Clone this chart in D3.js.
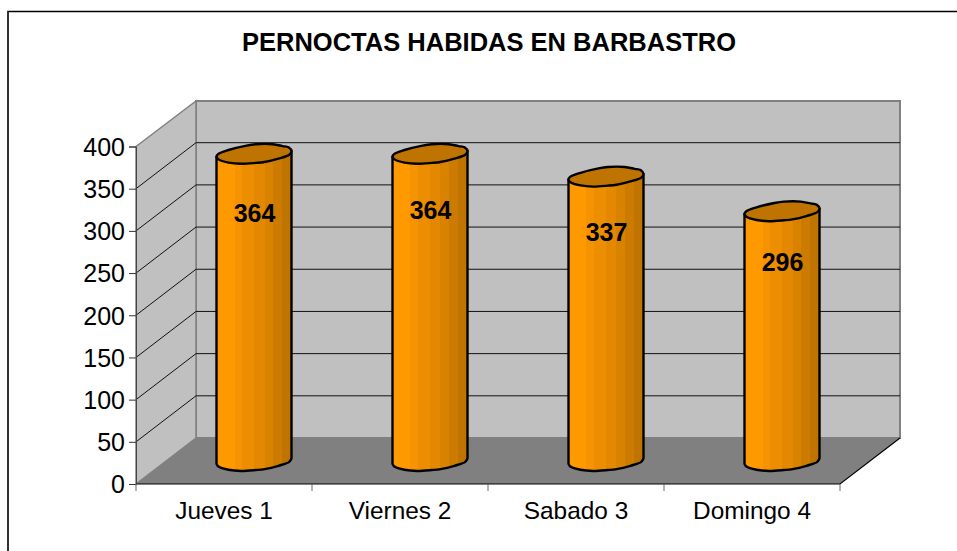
<!DOCTYPE html>
<html><head><meta charset="utf-8">
<script src="https://cdn.jsdelivr.net/npm/d3@7/dist/d3.min.js"></script>
<style>html,body{margin:0;padding:0;background:#fff}svg{display:block}text{font-family:"Liberation Sans",Arial,sans-serif;fill:#000}</style>
</head><body><svg id="c" width="957" height="551"></svg>
<script>
const categories = ["Jueves 1", "Viernes 2", "Sabado 3", "Domingo 4"];
const values = [364, 364, 337, 296];
const yTicks = [0, 50, 100, 150, 200, 250, 300, 350, 400];
const title = "PERNOCTAS HABIDAS EN BARBASTRO";
const labelNudge = [3, 0, -1, -5];

// outline of the hand-wobbled cylinder cap, unit box
const capFront = [[-1,.3],[-.95,.6],[-.68,.95],[-.35,1.08],[.05,.98],[.28,.88],[.65,.52],[.94,.1],[1,-.3]];
const capBack = [[.92,-.72],[.76,-.85],[.5,-1.05],[.05,-1.05],[-.2,-.9],[-.68,-.42],[-.95,0]];

const L = {x0:136, x1:840, y0:484, y1:146.5, dx:60, dy:46, barHalf:37.5, capH:9.2, depth:.5};
const svg = d3.select("#c");
const x = d3.scaleBand().domain(categories).range([L.x0, L.x1]);
const y = d3.scaleLinear().domain([0, 400]).range([L.y0, L.y1]);

// frame
svg.append("path").attr("d",`M8,551V11.5H957`).attr("fill","none").attr("stroke","#000").attr("stroke-width",1.5);
svg.append("path").attr("d",`M8,551V11.5`).attr("fill","none").attr("stroke","#333").attr("stroke-width",2);

// title
svg.append("text").attr("x",489).attr("y",51).attr("text-anchor","middle")
  .attr("font-size",25.5).attr("font-weight","bold").text(title);

const bx = L.x0+L.dx, by = L.y0-L.dy;
// back wall
svg.append("rect").attr("x",bx).attr("y",y(400)-L.dy+.5).attr("width",L.x1-L.x0).attr("height",L.y0-L.y1-.5)
  .attr("fill","#c0c0c0").attr("stroke","#808080").attr("stroke-width",2);
// side wall
svg.append("path").attr("d",`M${L.x0},${L.y0}L${L.x0},${L.y1}L${bx},${y(400)-L.dy+.5}L${bx},${by}Z`)
  .attr("fill","#c0c0c0").attr("stroke","#808080").attr("stroke-width",1.5);
// grid
const grid = svg.append("g").attr("stroke","#111").attr("stroke-width",1).attr("fill","none");
yTicks.filter(t=>t>0&&t<400).forEach(t=>{
  grid.append("path").attr("d",`M${L.x0},${y(t)}L${bx},${y(t)-L.dy}L${bx+L.x1-L.x0},${y(t)-L.dy}`);
});
// floor
svg.append("path").attr("d",`M${L.x0},${L.y0}L${bx},${by}L${bx+L.x1-L.x0},${by}L${L.x1},${L.y0}Z`)
  .attr("fill","#808080");
svg.append("path").attr("d",`M${L.x0},${L.y0}L${L.x1},${L.y0}L${bx+L.x1-L.x0},${by}`)
  .attr("fill","none").attr("stroke","#000").attr("stroke-width",1.2);

// gradient
const stops = [[0,"#ff9900"],[.24,"#ff9900"],[.24,"#f59300"],[.34,"#f59300"],[.34,"#ec8e00"],[.5,"#ec8e00"],[.5,"#e38800"],[.64,"#e38800"],[.64,"#d98200"],[.76,"#d98200"],[.76,"#cc7a00"],[.88,"#cc7a00"],[.88,"#bf7300"],[1,"#bf7300"]];
const g = svg.append("defs").append("linearGradient").attr("id","cyl");
g.selectAll("stop").data(stops).join("stop").attr("offset",d=>d[0]).attr("stop-color",d=>d[1]);

// bars
const line = d3.line().curve(d3.curveCatmullRom.alpha(.5));
const closed = d3.line().curve(d3.curveCatmullRomClosed.alpha(.5));
const bars = svg.append("g").selectAll("g").data(values).join("g");
const cx = (d,i)=>x(categories[i])+x.bandwidth()/2+L.dx*L.depth;
const yb = L.y0-L.dy*L.depth;
const pt = (p,c,yc)=>[c+p[0]*L.barHalf, yc+p[1]*L.capH];
bars.append("path").attr("fill","url(#cyl)").attr("stroke","#000").attr("stroke-width",2.4).attr("stroke-linejoin","round")
  .attr("d",(d,i)=>{
    const c=cx(d,i), top=yb-(L.y0-y(d));
    const bottom = line(capFront.map(p=>pt(p,c,yb)));
    const a=pt(capFront[0],c,top), b=pt(capFront[capFront.length-1],c,top);
    return `M${a}`+`L${pt(capFront[0],c,yb)}`+bottom.replace(/^M[^CL]*/,"")+`L${b}Z`;
  });
bars.append("path").attr("fill","#bf7300").attr("stroke","#000").attr("stroke-width",2.4).attr("stroke-linejoin","round")
  .attr("d",(d,i)=>{
    const c=cx(d,i), top=yb-(L.y0-y(d));
    return closed([...capFront,...capBack].map(p=>pt(p,c,top)));
  });
bars.append("text").attr("text-anchor","middle").attr("font-weight","bold").attr("font-size",25)
  .attr("x",(d,i)=>cx(d,i)+.5)
  .attr("y",(d,i)=>yb-(L.y0-y(d))+65+labelNudge[i])
  .text(d=>d);

// axes
const ay = svg.append("g").attr("transform",`translate(${L.x0},0)`)
  .call(d3.axisLeft(y).tickValues(yTicks).tickSize(7).tickPadding(4));
const ax = svg.append("g").attr("transform",`translate(0,${L.y0})`)
  .call(d3.axisBottom(x).tickSize(0).tickPadding(18));
ax.select(".domain").remove();
ay.select(".domain").attr("stroke","#444").attr("stroke-width",1);
ay.selectAll("line").attr("stroke","#333");
ay.selectAll("text").attr("font-size",25).attr("fill","#000").style("font-family",'"Liberation Sans",Arial,sans-serif').attr("dy",".35em");
ax.selectAll("text").attr("font-size",24.4).attr("fill","#000").style("font-family",'"Liberation Sans",Arial,sans-serif');
// category boundary ticks
svg.append("g").attr("stroke","#666").selectAll("line").data(d3.range(categories.length+1)).join("line")
  .attr("x1",i=>L.x0+i*x.step()).attr("x2",i=>L.x0+i*x.step()).attr("y1",L.y0).attr("y2",L.y0+7);
</script></body></html>
